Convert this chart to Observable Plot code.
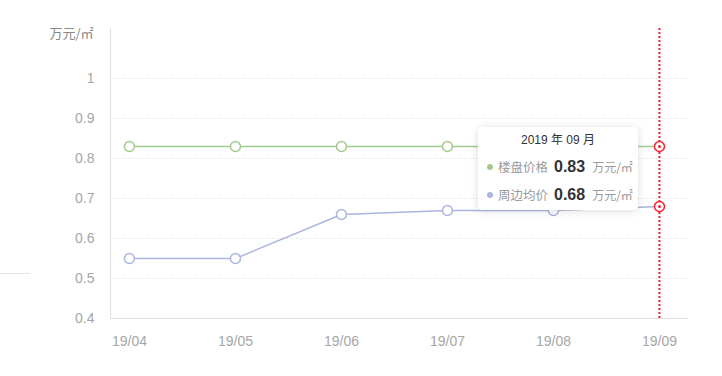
<!DOCTYPE html>
<html><head><meta charset="utf-8">
<script src="https://cdn.jsdelivr.net/npm/d3@7"></script>
<script src="https://cdn.jsdelivr.net/npm/@observablehq/plot@0.6"></script>
<style>
body{margin:0;background:#fff;font-family:"Liberation Sans","Noto Sans CJK SC",sans-serif;}
#wrap{position:relative;width:722px;height:376px;overflow:hidden;}
#wrap svg{position:absolute;left:0;top:0;}
#frag{position:absolute;left:0;top:273px;width:30px;height:1px;background:#e3e3e3;}
#tip{position:absolute;left:478px;top:127px;width:160px;height:83px;background:#fff;border-radius:4px;box-shadow:0 1px 8px rgba(0,0,0,0.14);}
#tip .t{position:absolute;left:0;top:5px;width:100%;text-align:center;font-size:12px;color:#333;line-height:16px;}
#tip .row{position:absolute;left:9px;height:20px;line-height:20px;white-space:nowrap;}
#tip .dot{display:inline-block;width:6px;height:6px;border-radius:3px;vertical-align:middle;margin-right:5px;position:relative;top:-1px;}
#tip .n{font-size:12.5px;color:#999;font-family:"Noto Sans CJK SC",sans-serif;}
#tip .v{font-size:16px;font-weight:bold;color:#333;margin:0 7px 0 6px;}
#tip .u{font-size:12px;color:#999;font-family:"Noto Sans CJK SC",sans-serif;}
</style></head><body>
<div id="wrap"><div id="frag"></div></div>
<script>
const months = ["19/04","19/05","19/06","19/07","19/08","19/09"];
const projectPrice = [0.83,0.83,0.83,0.83,0.83,0.83];
const areaPrice = [0.55,0.55,0.66,0.67,0.67,0.68];
const yTicks = [0.4,0.5,0.6,0.7,0.8,0.9,1];
const seriesNames = ["楼盘价格","周边均价"];
const seriesColors = ["#a3ca8e","#a9b6dd"];
const unit = "万元/㎡";
const tipTitle = "2019 年 09 月";
const hoverIndex = 5;

const idx = months.map((_, i) => i);
const rowsA = idx.map(i => ({i, v: projectPrice[i]}));
const rowsB = idx.map(i => ({i, v: areaPrice[i]}));
const xDom = [-0.179, 5.274];
const yDom = [0.4, 1.125];
const hover = [{i: hoverIndex, v: projectPrice[hoverIndex]}, {i: hoverIndex, v: areaPrice[hoverIndex]}];

const chart = Plot.plot({
  width: 722, height: 376,
  marginLeft: 110, marginRight: 34, marginTop: 28, marginBottom: 58,
  style: {fontFamily: '"Liberation Sans","Noto Sans CJK SC",sans-serif', fontSize: "14px", color: "#a6a6a6", background: "transparent"},
  x: {type: "linear", domain: xDom},
  y: {domain: yDom},
  marks: [
    Plot.ruleY(yTicks.filter(d => d > 0.4), {x1: xDom[0], x2: xDom[1], stroke: "#dcdcdc", strokeDasharray: "1,2"}),
    Plot.ruleX([xDom[0]], {y1: yDom[0], y2: yDom[1], stroke: "#e0e0e0"}),
    Plot.ruleY([0.4], {x1: xDom[0], x2: xDom[1], stroke: "#e0e0e0"}),
    Plot.axisY({ticks: yTicks, tickSize: 0, tickPadding: 16, tickFormat: d => String(d), label: null, fill: "#a6a6a6", fontSize: 14}),
    Plot.axisX({ticks: idx, tickSize: 0, tickPadding: 18, tickFormat: i => months[i], label: null, fill: "#a6a6a6", fontSize: 14}),
    Plot.text([unit], {frameAnchor: "top-left", dx: -17, dy: 5, lineAnchor: "middle", textAnchor: "end", fill: "#888", fontSize: 13, fontFamily: '"Noto Sans CJK SC",sans-serif'}),
    Plot.line(rowsA, {x: "i", y: "v", stroke: seriesColors[0], strokeWidth: 1.5}),
    Plot.line(rowsB, {x: "i", y: "v", stroke: seriesColors[1], strokeWidth: 1.5}),
    Plot.dot(rowsA.filter(d => d.i !== hoverIndex), {x: "i", y: "v", r: 5, fill: "#fff", stroke: seriesColors[0], strokeWidth: 1.5}),
    Plot.dot(rowsB.filter(d => d.i !== hoverIndex), {x: "i", y: "v", r: 5, fill: "#fff", stroke: seriesColors[1], strokeWidth: 1.5}),
    Plot.ruleX([hoverIndex], {y1: yDom[0], y2: yDom[1], stroke: "#f5222d", strokeWidth: 2, strokeDasharray: "2,2"}),
    Plot.dot(hover, {x: "i", y: "v", r: 5, fill: "#fff", stroke: "#f5222d", strokeWidth: 1.5}),
    Plot.dot(hover, {x: "i", y: "v", r: 1.5, fill: "#f5222d"})
  ]
});
const wrap = document.getElementById("wrap");
wrap.appendChild(chart);

const tip = document.createElement("div");
tip.id = "tip";
const vals = [projectPrice[hoverIndex], areaPrice[hoverIndex]];
tip.innerHTML = `<div class="t">${tipTitle}</div>` + seriesNames.map((n, k) =>
  `<div class="row" style="top:${30 + k * 28}px"><span class="dot" style="background:${seriesColors[k]}"></span><span class="n">${n}</span><span class="v">${vals[k].toFixed(2)}</span><span class="u">${unit}</span></div>`
).join("");
wrap.appendChild(tip);
</script>
</body></html>
